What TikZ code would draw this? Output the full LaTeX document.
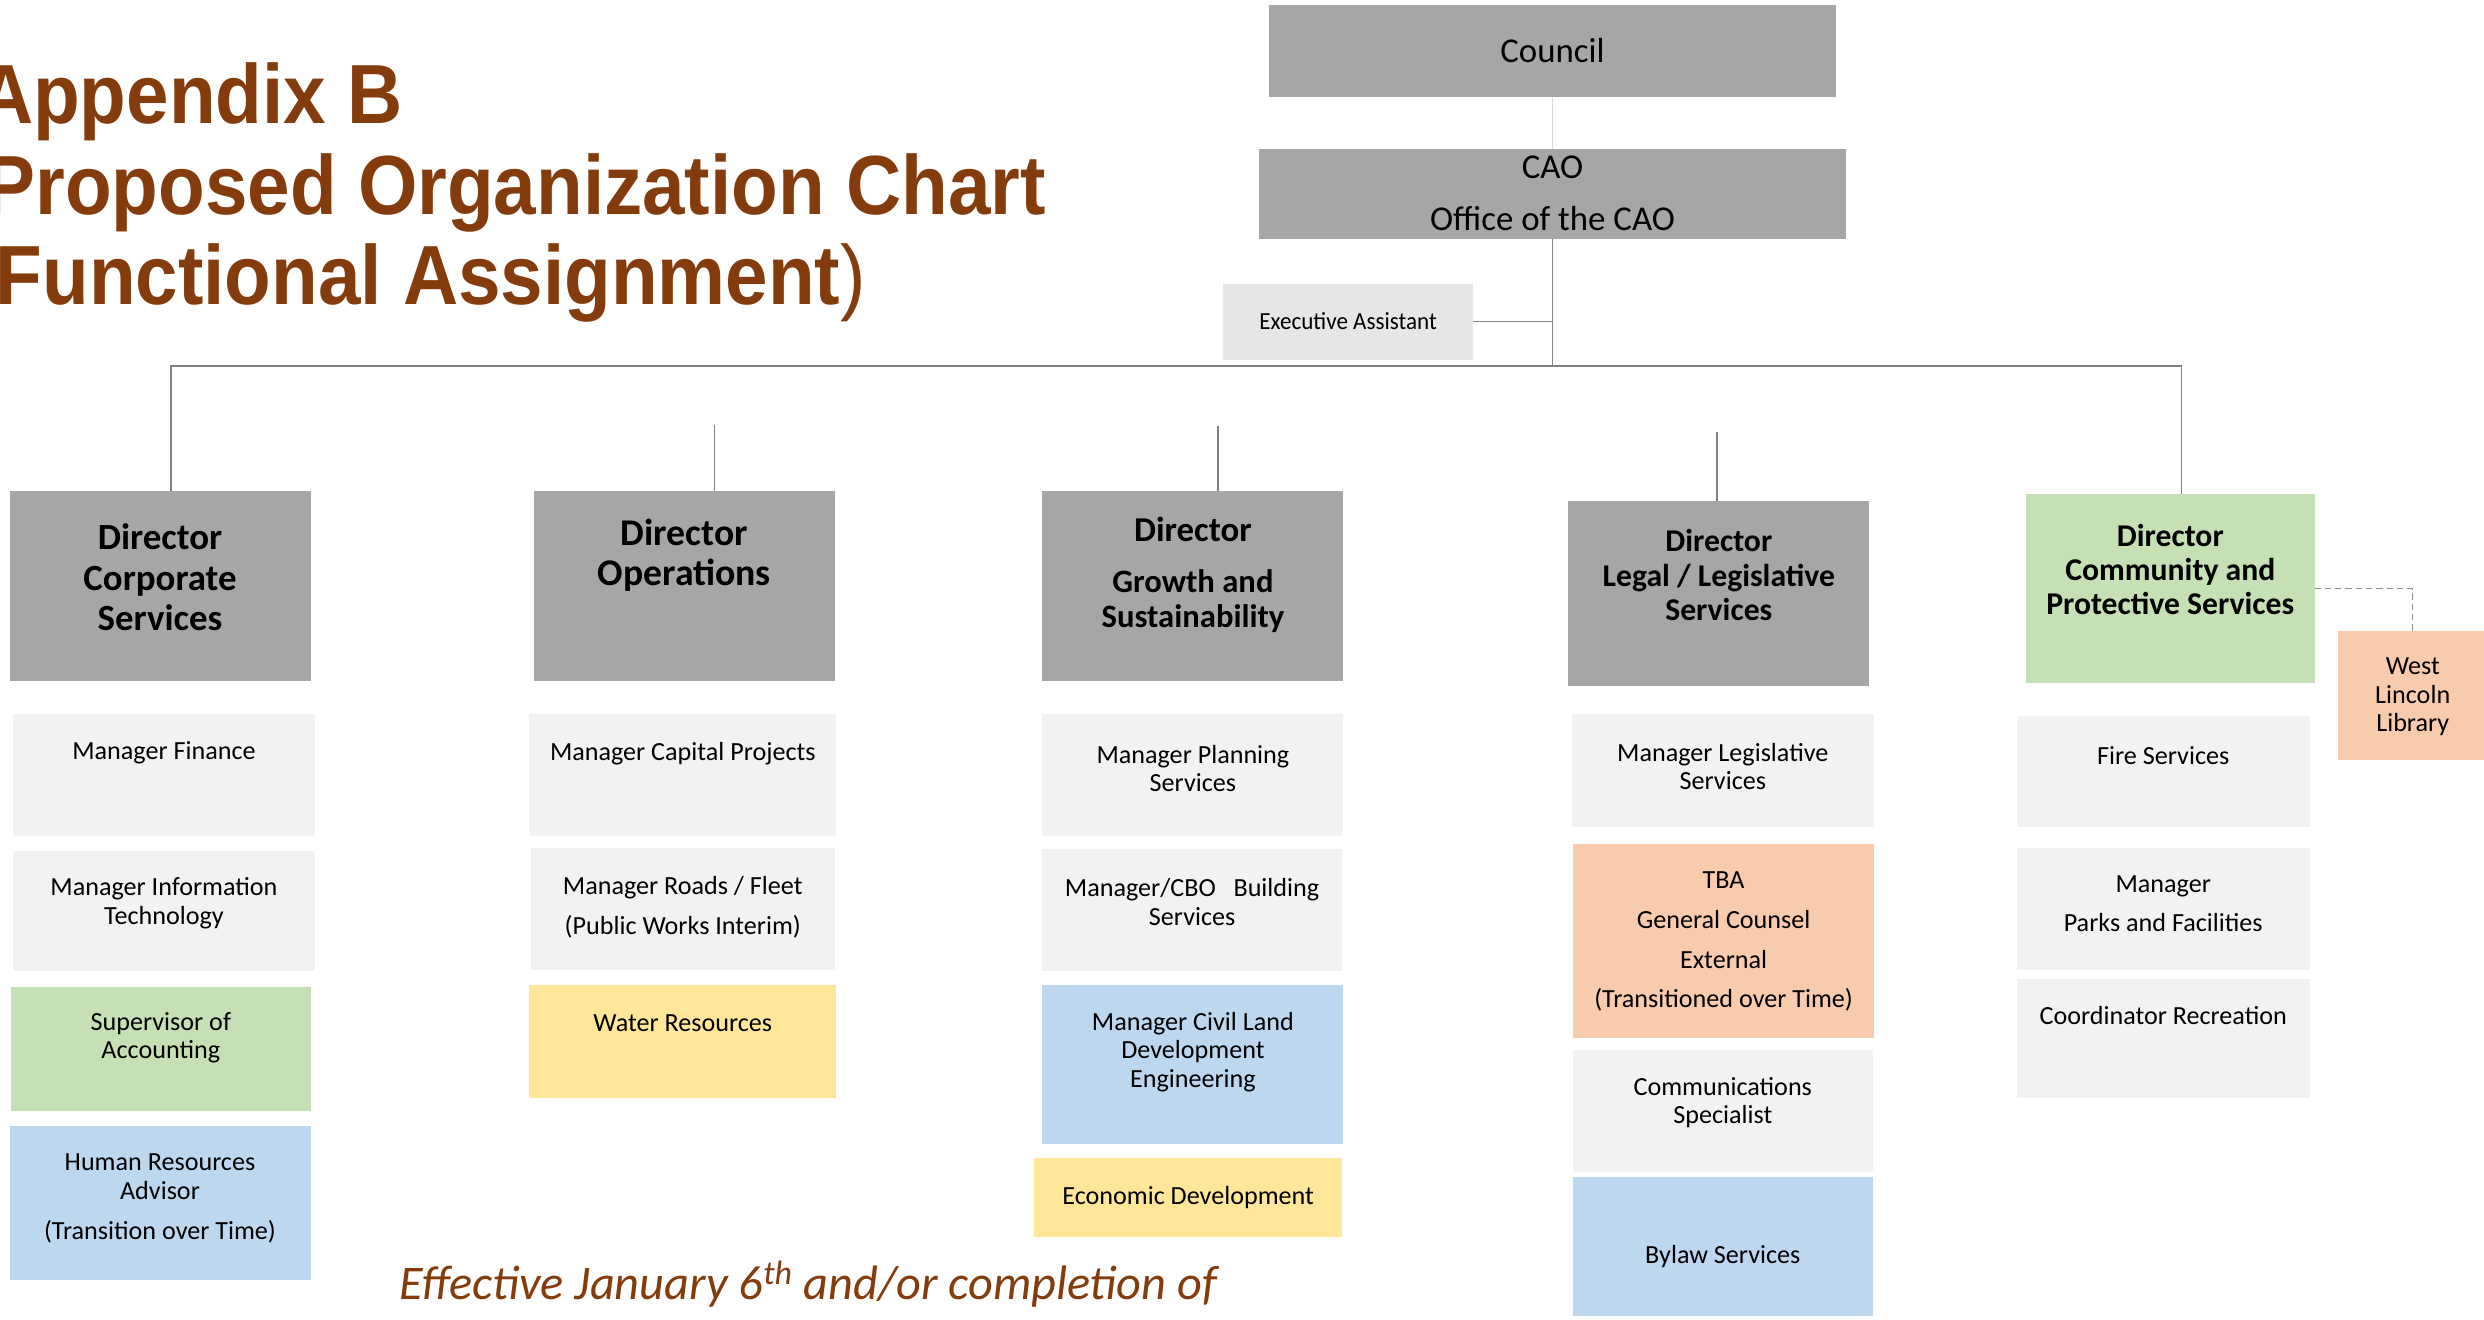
\documentclass[tikz,border=0pt]{standalone}
\usepackage{fontspec}
\setmainfont{Carlito}
\newfontfamily\titlefont{Liberation Sans}
\usepackage{graphicx}
\definecolor{dirgray}{HTML}{A6A6A6}
\definecolor{lgray}{HTML}{F2F2F2}
\definecolor{eagray}{HTML}{E7E6E6}
\definecolor{lgreen}{HTML}{C5E0B4}
\definecolor{lblue}{HTML}{BDD7EE}
\definecolor{lyellow}{HTML}{FFE699}
\definecolor{lorange}{HTML}{F8CBAD}
\definecolor{brown}{HTML}{843C0C}
\definecolor{linegray}{HTML}{808080}
\tikzset{
  box/.style={rectangle, draw=none, inner sep=0pt, outer sep=0pt},
  txt/.style={align=center, inner sep=0pt, text=black},
  conn/.style={draw=linegray, line width=1pt},
  faintconn/.style={draw=black!15, line width=1pt},
  dashln/.style={draw=black!45, line width=0.9pt, dash pattern=on 4pt off 2.5pt},
  cf/.style={font=\fontsize{16.5}{18}\selectfont},
  dfa/.style={font=\fontsize{23.3}{25.5}\selectfont\bfseries},
  dfb/.style={font=\fontsize{23.8}{25.5}\selectfont\bfseries},
  dfc/.style={font=\fontsize{20.6}{22}\selectfont\bfseries},
  dfd/.style={font=\fontsize{20}{22}\selectfont\bfseries},
  dfe/.style={font=\fontsize{20}{21.5}\selectfont\bfseries},
  topf/.style={font=\fontsize{22}{32.5}\selectfont},
  titl/.style={anchor=base west, inner sep=0pt, text=brown,
    font=\titlefont\bfseries\fontsize{53}{57}\selectfont},
}
\newcommand{\orgbox}[9]{%
  \node[box, fill=#6, minimum width={#4-#2}, minimum height={#5-#3}] (#1) at ({(#2+#4)/2},{(#3+#5)/2}) {};
  \node[txt, #8] (#1-t) at ({(#2+#4)/2},#7) {#9};
}
\begin{document}
\begin{tikzpicture}[x=1pt,y=-1pt]
\clip (0,0) rectangle (1568,833);
\fill[white] (0,0) rectangle (1568,833);

% title
\node[titl] (t1) at (-14,78) {\scalebox{0.91}[1]{Appendix B}};
\node[titl] (t2) at (-10,135.5) {\scalebox{0.91}[1]{Proposed Organization Chart}};
\node[titl] (t3) at (-19,192) {\scalebox{0.91}[1]{(Functional Assignment{\mdseries)}}};

% top
\orgbox{council}{801}{3}{1159}{61}{dirgray}{32}{topf}{Council}
\orgbox{cao}{795}{94}{1165}{151}{dirgray}{122}{topf}{CAO\\Office of the CAO}
\orgbox{ea}{772}{179}{930}{227}{eagray}{203}{font=\fontsize{15.5}{17}\selectfont}{\scalebox{0.94}[1]{Executive Assistant}}

% directors
\orgbox{d1}{6}{310}{196}{430}{dirgray}{364.5}{dfa}{Director\\Corporate\\Services}
\orgbox{d2}{337}{310}{527}{430}{dirgray}{350.5}{dfb}{Director\\Operations}
\orgbox{d3}{658}{310}{848}{430}{dirgray}{363}{dfc}{{\fontsize{22}{22}\selectfont Director}\\[10pt]Growth and\\Sustainability}
\orgbox{d4}{990}{316}{1180}{433}{dirgray}{363}{dfd}{Director\\Legal / Legislative\\Services}
\orgbox{d5}{1279}{312}{1461}{431}{lgreen}{359.5}{dfe}{Director\\Community and\\Protective Services}
\orgbox{lib}{1476}{398}{1570}{480}{lorange}{440}{cf}{West\\Lincoln\\Library}

% column 1
\orgbox{c11}{8}{451}{199}{528}{lgray}{475}{cf}{Manager Finance}
\orgbox{c12}{8}{537}{199}{613}{lgray}{570}{cf}{Manager Information\\Technology}
\orgbox{c13}{7}{623}{196}{701}{lgreen}{655}{cf}{Supervisor of\\Accounting}
\orgbox{c14}{6}{711}{196}{808}{lblue}{756.5}{cf}{Human Resources\\Advisor\\[7pt](Transition over Time)}
% column 2
\orgbox{c21}{334}{451}{528}{528}{lgray}{476}{cf}{Manager Capital Projects}
\orgbox{c22}{335}{535}{527}{612}{lgray}{572.5}{cf}{Manager Roads / Fleet\\[7pt](Public Works Interim)}
\orgbox{c23}{334}{622}{528}{693}{lyellow}{646}{cf}{Water Resources}
% column 3
\orgbox{c31}{658}{451}{848}{528}{lgray}{485}{cf}{Manager Planning\\Services}
\orgbox{c32}{658}{536}{847}{613}{lgray}{569.5}{cf}{Manager/CBO\ \ \ Building\\Services}
\orgbox{c33}{658}{622}{848}{722}{lblue}{664}{cf}{Manager Civil Land\\Development\\Engineering}
\orgbox{c34}{653}{731}{847}{781}{lyellow}{756}{cf}{Economic Development}
% column 4
\orgbox{c41}{992}{451}{1183}{522}{lgray}{484}{cf}{Manager Legislative\\Services}
\orgbox{c42}{993}{533}{1183}{655}{lorange}{594.5}{cf}{TBA\\[7pt]General Counsel\\[7pt]External\\[7pt](Transitioned over Time)}
\orgbox{c43}{993}{663}{1182}{740}{lgray}{696}{cf}{Communications\\Specialist}
\orgbox{c44}{993}{743}{1182}{831}{lblue}{793}{cf}{Bylaw Services}
% column 5
\orgbox{c51}{1273}{452}{1458}{522}{lgray}{477}{cf}{Fire Services}
\orgbox{c52}{1273}{535}{1458}{612}{lgray}{570.5}{cf}{Manager\\[7pt]Parks and Facilities}
\orgbox{c53}{1273}{618}{1458}{693}{lgray}{641}{cf}{Coordinator Recreation}

% connectors
\coordinate (busL) at (108,231);
\coordinate (busR) at (1377,231);
\coordinate (top2) at (451,268);
\coordinate (top3) at (769,269);
\coordinate (top4) at (1084,273);
\draw[faintconn] (council.south) -- (cao.north);
\draw[conn] (cao.south) -- (cao.south |- busL);
\draw[conn] (ea.east) -- (ea.east -| cao.south);
\draw[conn] (busL |- d1.north) -- (busL) -- (busR) -- (busR |- d5.north);
\draw[conn] (top2) -- (top2 |- d2.north);
\draw[conn] (top3) -- (top3 |- d3.north);
\draw[conn] (top4) -- (top4 |- d4.north);
\draw[dashln] (d5.east) -| (lib.north);

% footer
\node[anchor=base west, inner sep=0pt, text=brown, font=\fontsize{30.5}{33}\selectfont\itshape] (eff) at (252,820) {Effective January 6\textsuperscript{th} and/or completion of};
\end{tikzpicture}
\end{document}
